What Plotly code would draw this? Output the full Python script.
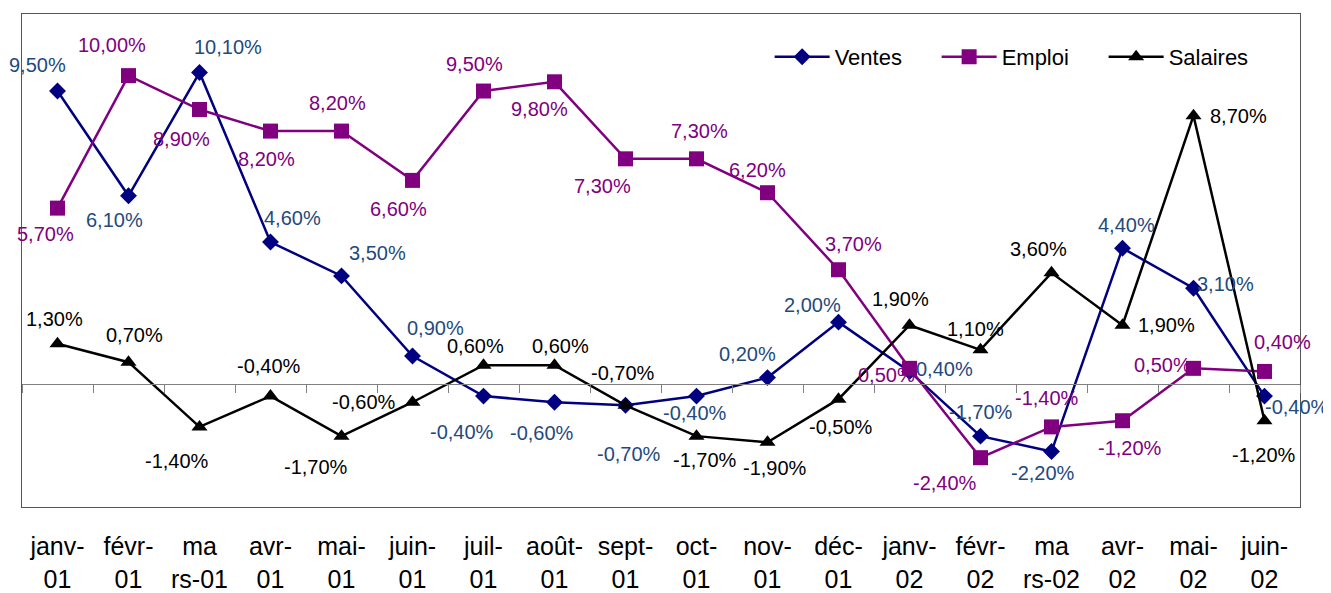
import plotly.graph_objects as go

months = ["janv-<br>01", "févr-<br>01", "ma<br>rs-01", "avr-<br>01", "mai-<br>01", "juin-<br>01",
          "juil-<br>01", "août-<br>01", "sept-<br>01", "oct-<br>01", "nov-<br>01", "déc-<br>01",
          "janv-<br>02", "févr-<br>02", "ma<br>rs-02", "avr-<br>02", "mai-<br>02", "juin-<br>02"]

ventes = [9.5, 6.1, 10.1, 4.6, 3.5, 0.9, -0.4, -0.6, -0.7, -0.4, 0.2, 2.0, 0.4, -1.7, -2.2, 4.4, 3.1, -0.4]
emploi = [5.7, 10.0, 8.9, 8.2, 8.2, 6.6, 9.5, 9.8, 7.3, 7.3, 6.2, 3.7, 0.5, -2.4, -1.4, -1.2, 0.5, 0.4]
salaires = [1.3, 0.7, -1.4, -0.4, -1.7, -0.6, 0.6, 0.6, -0.7, -1.7, -1.9, -0.5, 1.9, 1.1, 3.6, 1.9, 8.7, -1.2]

# label offsets (pixels, dx right / dy down) relative to each marker
off_ventes = [(-20, -26), (-14, 24), (28, -26), (22, -24), (36, -23), (23, -28),
              (-22, 36), (-13, 31), (3, 49), (-2, 17), (-20, -24), (-26, -17),
              (35, -2), (0, -24), (-9, 21), (4, -23), (32, -4), (32, 11)]
off_emploi = [(-12, 26), (-17, -31), (-18, 29), (-4, 28), (-4, -28), (-14, 29),
              (-9, -27), (-15, 27), (-23, 27), (3, -28), (-10, -23), (15, -26),
              (-23, 7), (-36, 25), (-5, -29), (7, 27), (-31, -3), (18, -29)]
off_salaires = [(-3, -25), (6, -27), (-23, 34), (-2, -30), (-26, 31), (-49, 0),
                (-8, -19), (6, -19), (-3, -32), (8, 24), (7, 26), (2, 28),
                (-9, -26), (-5, -21), (-13, -24), (44, 0), (45, 0), (-1, 34)]

FONT = "Arial, Liberation Sans, sans-serif"
idx = list(range(len(months)))


def fmt(v):
    return ("%.2f%%" % v).replace(".", ",")


fig = go.Figure()
series = [
    ("Ventes", ventes, "#000080", "#1F4A7E", "diamond", off_ventes, 13),
    ("Emploi", emploi, "#800080", "#800080", "square", off_emploi, 15),
    ("Salaires", salaires, "#000000", "#000000", "triangle-up", off_salaires, 14),
]
annotations = []
for name, vals, col, tcol, sym, offs, ms in series:
    fig.add_trace(go.Scatter(
        x=idx, y=vals, name=name, mode="lines+markers",
        line=dict(color=col, width=2.5),
        marker=dict(symbol=sym, size=ms, color=col),
        cliponaxis=False,
    ))
    for i, v in enumerate(vals):
        dx, dy = offs[i]
        annotations.append(dict(
            x=i, y=v, xref="x", yref="y", text=fmt(v), showarrow=False,
            xanchor="center", yanchor="middle", xshift=dx, yshift=-dy,
            font=dict(family=FONT, size=20, color=tcol),
        ))

# dummy trace for the zero-crossing category axis
fig.add_trace(go.Scatter(x=[None], y=[None], xaxis="x2", showlegend=False, hoverinfo="skip"))

boundaries = [i - 0.5 for i in range(len(months) + 1)]

fig.update_layout(
    width=1323, height=585,
    margin=dict(l=14, r=31, t=6, b=86, autoexpand=False),
    paper_bgcolor="white", plot_bgcolor="white",
    font=dict(family=FONT, color="black"),
    showlegend=True,
    annotations=annotations,
    legend=dict(orientation="h", x=0.585, y=0.913, xanchor="left", yanchor="middle",
                font=dict(size=22, family=FONT), itemwidth=55, bgcolor="rgba(0,0,0,0)",
                entrywidth=97, entrywidthmode="pixels", traceorder="normal"),
    xaxis=dict(range=[-0.5, len(months) - 0.5], tickmode="array", tickvals=idx, ticktext=months,
               tickfont=dict(size=25, family=FONT, color="black"), showgrid=False, zeroline=False,
               showline=True, mirror=True, linecolor="#555555", linewidth=1, ticks="",
               ticklabelstandoff=17, automargin=False),
    xaxis2=dict(overlaying="x", matches="x", anchor="free", position=0.25, range=[-0.5, len(months) - 0.5],
                tickmode="array", tickvals=boundaries, showticklabels=False, ticks="outside",
                ticklen=8, tickcolor="#808080", showline=True, linecolor="#808080", linewidth=1,
                showgrid=False, zeroline=False, automargin=False),
    yaxis=dict(range=[-4, 12], showticklabels=False, showgrid=False, zeroline=False,
               showline=True, mirror=True, linecolor="#555555", linewidth=1, ticks="",
               automargin=False),
)

fig.write_html("out.html")
